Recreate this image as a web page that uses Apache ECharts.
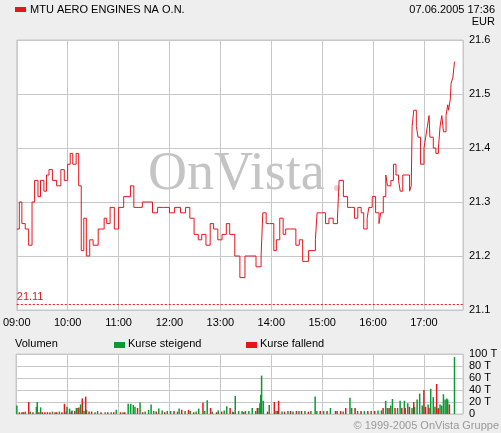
<!DOCTYPE html>
<html>
<head>
<meta charset="utf-8">
<script src="https://cdn.jsdelivr.net/npm/echarts@6/dist/echarts.min.js"></script>
<style>
  html, body { margin: 0; padding: 0; background: #eeeeee; }
  #chart { width: 501px; height: 433px; }
</style>
</head>
<body>
<div id="chart"></div>
<script>
// minutes after 09:00, price in EUR
var priceMin = [0, 3, 6, 10, 14, 18, 21, 25, 28, 32, 35, 38, 42, 47, 52, 56, 60, 63, 66, 70, 73, 76, 79, 82, 86, 90, 96, 103, 106, 110, 115, 120, 126, 134, 138, 143, 148, 153, 160, 166, 173, 180, 186, 193, 199, 204, 209, 214, 218, 223, 228, 232, 237, 242, 247, 251, 257, 263, 269, 275, 282, 288, 290, 294, 298, 303, 306, 310, 314, 317, 322, 329, 333, 337, 344, 352, 354, 359, 364, 368, 373, 378, 380, 385, 390, 395, 398, 402, 406, 409, 413, 415, 419, 423, 427, 429, 432, 435, 437, 441, 444, 447, 450, 452, 455, 460, 463, 465, 466, 468, 471, 473, 476, 480, 482, 484, 486, 487, 491, 494, 497, 499, 501, 503, 506, 508, 509, 511, 512, 514, 516];
var priceVal = [21.25, 21.30, 21.26, 21.25, 21.22, 21.30, 21.34, 21.31, 21.34, 21.32, 21.35, 21.36, 21.34, 21.33, 21.36, 21.34, 21.37, 21.39, 21.37, 21.39, 21.33, 21.21, 21.27, 21.20, 21.23, 21.22, 21.25, 21.27, 21.26, 21.29, 21.25, 21.29, 21.31, 21.33, 21.29, 21.29, 21.30, 21.30, 21.28, 21.29, 21.29, 21.28, 21.29, 21.28, 21.29, 21.27, 21.24, 21.23, 21.24, 21.22, 21.26, 21.25, 21.23, 21.24, 21.26, 21.24, 21.20, 21.16, 21.20, 21.20, 21.18, 21.20, 21.28, 21.26, 21.26, 21.21, 21.23, 21.27, 21.24, 21.25, 21.25, 21.22, 21.23, 21.19, 21.21, 21.23, 21.28, 21.28, 21.26, 21.27, 21.26, 21.27, 21.34, 21.31, 21.29, 21.29, 21.27, 21.29, 21.28, 21.25, 21.27, 21.29, 21.31, 21.28, 21.26, 21.28, 21.31, 21.35, 21.33, 21.34, 21.37, 21.35, 21.34, 21.32, 21.35, 21.35, 21.32, 21.33, 21.44, 21.47, 21.44, 21.42, 21.37, 21.40, 21.42, 21.44, 21.46, 21.42, 21.40, 21.39, 21.40, 21.44, 21.46, 21.43, 21.46, 21.48, 21.47, 21.49, 21.52, 21.53, 21.56, 21.58];
var refPrice = 21.11;
var priceTicks = [21.1, 21.2, 21.3, 21.4, 21.5, 21.6];
var timeLabels = ['09:00', '10:00', '11:00', '12:00', '13:00', '14:00', '15:00', '16:00', '17:00'];

// volume in thousands (T), [minute, volume]
var volUp = [[1, 14], [11, 4], [17, 4], [24, 12], [25, 20], [29, 11], [43, 4], [51, 4], [59, 4], [60, 12], [63, 9], [66, 6], [71, 10], [76, 16], [80, 5], [83, 7], [93, 3], [96, 5], [105, 3], [112, 3], [118, 7], [126, 3], [132, 17], [135, 17], [138, 15], [140, 12], [146, 19], [152, 4], [156, 7], [159, 16], [162, 5], [168, 9], [172, 6], [178, 5], [182, 5], [190, 4], [192, 9], [199, 5], [205, 5], [212, 4], [215, 9], [222, 5], [225, 23], [231, 4], [238, 6], [245, 6], [248, 13], [255, 4], [258, 30], [262, 5], [266, 5], [270, 5], [274, 5], [278, 10], [282, 5], [286, 10], [287, 18], [288, 32], [289, 64], [291, 22], [298, 15], [306, 5], [313, 4], [320, 5], [326, 4], [333, 5], [340, 5], [347, 5], [352, 29], [354, 5], [362, 5], [370, 10], [378, 5], [385, 4], [393, 27], [395, 10], [402, 5], [410, 5], [418, 5], [426, 6], [430, 6], [435, 22], [437, 10], [441, 14], [443, 25], [449, 10], [452, 22], [457, 22], [461, 18], [466, 10], [469, 12], [472, 24], [475, 34], [478, 14], [485, 16], [488, 42], [491, 28], [493, 12], [497, 10], [499, 16], [501, 14], [503, 33], [505, 24], [507, 26], [508, 24], [516, 95]];
var volDown = [[4, 3], [7, 3], [9, 3], [15, 20], [20, 3], [27, 3], [31, 3], [34, 3], [37, 3], [40, 3], [46, 3], [48, 3], [54, 3], [57, 17], [65, 4], [69, 5], [73, 10], [74, 11], [78, 26], [82, 29], [86, 4], [89, 4], [100, 3], [108, 3], [115, 3], [123, 3], [128, 3], [143, 10], [149, 3], [165, 4], [175, 3], [186, 5], [195, 7], [203, 7], [209, 3], [220, 19], [229, 10], [236, 3], [242, 4], [252, 10], [256, 3], [268, 3], [284, 10], [296, 4], [304, 20], [308, 5], [309, 22], [316, 4], [323, 5], [330, 5], [336, 5], [344, 4], [358, 5], [366, 5], [376, 5], [382, 5], [388, 10], [399, 10], [406, 5], [414, 5], [422, 5], [432, 10], [439, 10], [446, 10], [454, 10], [458, 10], [463, 12], [468, 20], [480, 40], [482, 12], [486, 10], [495, 50], [497, 8], [510, 16]];
var volTicks = [0, 20, 40, 60, 80, 100];

var priceData = priceMin.map(function (m, i) { return [m, priceVal[i]]; });
var font = 'Liberation Sans, Arial, sans-serif';
var red = '#e8141c', green = '#0a9a35', gridCol = '#c8c8c8';

function hhmm(v) {
  var h = 9 + Math.floor(v / 60), m = v % 60;
  return (h < 10 ? '0' : '') + h + ':' + (m < 10 ? '0' : '') + m;
}

var chart = echarts.init(document.getElementById('chart'));
chart.setOption({
  animation: false,
  backgroundColor: '#eeeeee',
  textStyle: { fontFamily: font },
  graphic: [
    { type: 'rect', left: 15, top: 7, shape: { width: 11, height: 5 }, style: { fill: red } },
    { type: 'text', left: 30, top: 4, style: { text: 'MTU AERO ENGINES NA O.N.', font: '11px ' + font, fill: '#000' } },
    { type: 'text', right: 6, top: 4, style: { text: '07.06.2005 17:36', font: '11px ' + font, fill: '#000' } },
    { type: 'text', right: 6, top: 16, style: { text: 'EUR', font: '11px ' + font, fill: '#000' } },
    { type: 'text', left: 148, top: 148, z: 0, style: { text: 'OnVista', font: '54px "Liberation Serif", "DejaVu Serif", serif', fill: '#c4c4c4' } },
    { type: 'circle', left: 334, top: 185, z: 0, shape: { r: 3 }, style: { fill: '#f0c8cc' } },
    { type: 'text', left: 15, top: 338, style: { text: 'Volumen', font: '11px ' + font, fill: '#000' } },
    { type: 'rect', left: 114, top: 342, shape: { width: 11, height: 6 }, style: { fill: green } },
    { type: 'text', left: 128, top: 338, style: { text: 'Kurse steigend', font: '11px ' + font, fill: '#000' } },
    { type: 'rect', left: 246, top: 342, shape: { width: 11, height: 6 }, style: { fill: red } },
    { type: 'text', left: 260, top: 338, style: { text: 'Kurse fallend', font: '11px ' + font, fill: '#000' } },
    { type: 'text', right: 2, top: 420, style: { text: '\u00a9 1999-2005 OnVista Gruppe', font: '11px ' + font, fill: '#999' } }
  ],
  grid: [
    { left: 16, right: 38, top: 40, height: 270, show: true, backgroundColor: '#fff', borderColor: gridCol, borderWidth: 1, z: -1 },
    { left: 16, right: 38, top: 354, height: 60, show: true, backgroundColor: '#fff', borderColor: gridCol, borderWidth: 1, z: -1 }
  ],
  xAxis: [
    { type: 'value', gridIndex: 0, min: 0, max: 526, interval: 60,
      axisLine: { show: false }, axisTick: { show: false },
      splitLine: { lineStyle: { color: gridCol } },
      axisLabel: { color: '#000', fontSize: 11, margin: 7, formatter: function (v) { return v % 60 === 0 && v / 60 < timeLabels.length ? timeLabels[v / 60] : ''; }, showMaxLabel: false } },
    { type: 'value', gridIndex: 1, min: 0, max: 526, interval: 60,
      axisLine: { show: false }, axisTick: { show: false },
      splitLine: { lineStyle: { color: gridCol } }, axisLabel: { show: false } }
  ],
  yAxis: [
    { type: 'value', gridIndex: 0, position: 'right', min: priceTicks[0], max: priceTicks[priceTicks.length - 1], interval: 0.1,
      axisLine: { show: false }, axisTick: { show: false },
      splitLine: { lineStyle: { color: gridCol } },
      axisLabel: { color: '#000', fontSize: 11, margin: 6, formatter: function (v) { return v.toFixed(1); } } },
    { type: 'value', gridIndex: 1, position: 'right', min: 0, max: 100, interval: 20,
      axisLine: { show: false }, axisTick: { show: false },
      splitLine: { lineStyle: { color: gridCol } },
      axisLabel: { color: '#000', fontSize: 11, margin: 6, formatter: function (v) { return v === 0 ? '0' : v + ' T'; } } }
  ],
  series: [
    { type: 'line', xAxisIndex: 0, yAxisIndex: 0, data: priceData, step: 'end', symbol: 'none',
      lineStyle: { color: red, width: 1 },
      markLine: { silent: true, symbol: 'none',
        lineStyle: { color: red, type: [2, 2], width: 1 },
        label: { position: 'insideStartTop', formatter: String(refPrice), color: red, fontSize: 11, distance: [0, 2] },
        data: [{ yAxis: refPrice }] } },
    { type: 'bar', xAxisIndex: 1, yAxisIndex: 1, data: volUp, barWidth: 1.5, itemStyle: { color: green } },
    { type: 'bar', xAxisIndex: 1, yAxisIndex: 1, data: volDown, barWidth: 1.5, barGap: '-100%', itemStyle: { color: red } }
  ]
});
</script>
</body>
</html>
